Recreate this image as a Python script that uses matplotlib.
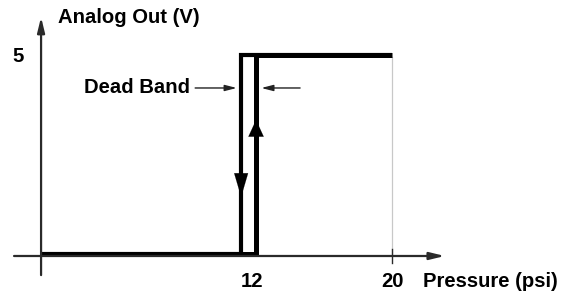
import matplotlib
matplotlib.use("Agg")
import matplotlib.pyplot as plt

plt.rcParams["font.family"] = ["Liberation Sans", "DejaVu Sans"]

# hysteresis data (pressure in psi, output in V)
p_low = 11.4      # switch-off pressure (falling)
p_high = 12.25    # switch-on pressure (rising)
p_max = 20
v_max = 5
rise_p = [0, p_high, p_high, p_max]
rise_v = [0, 0, v_max, v_max]
fall_p = [p_max, p_low, p_low, 0]
fall_v = [v_max, v_max, 0, 0]
xtick_vals = [12, 20]
xtick_labels = ["12", "20"]
ytick_vals = [5]

fs = 14.6

fig = plt.figure(figsize=(5.73, 2.97), dpi=100)
ax = fig.add_axes([0, 0, 1, 1])
ax.set_xlim(-2.34, 30.31)
ax.set_ylim(-1.03, 6.43)
ax.axis("off")

# axes with arrows
ax.annotate("", xy=(0, 6.0), xytext=(0, -0.48),
            arrowprops=dict(arrowstyle="-|>,head_length=0.9,head_width=0.22",
                            color="#2a2a2a", lw=1.6, shrinkA=0, shrinkB=0))
ax.annotate("", xy=(23.0, 0), xytext=(-1.54, 0),
            arrowprops=dict(arrowstyle="-|>,head_length=0.9,head_width=0.22",
                            color="#2a2a2a", lw=1.6, shrinkA=0, shrinkB=0))

# thin guide at full scale
ax.plot([p_max, p_max], [0, v_max], color="#c8c8c8", lw=0.9)
ax.plot([p_max, p_max], [-0.18, 0.18], color="#2a2a2a", lw=1.0)

# hysteresis loop
ax.plot(fall_p, [v + 0.04 for v in fall_v], color="black", lw=3.0,
        solid_joinstyle="miter", solid_capstyle="butt")
ax.plot(rise_p, [v + 0.04 for v in rise_v], color="black", lw=3.6,
        solid_joinstyle="miter", solid_capstyle="butt")

# direction arrowheads on verticals
ax.annotate("", xy=(p_low, 1.48), xytext=(p_low, 2.1),
            arrowprops=dict(arrowstyle="-|>,head_length=1.7,head_width=0.5",
                            color="black", lw=0.1, shrinkA=0, shrinkB=0))
ax.annotate("", xy=(p_high, 3.42), xytext=(p_high, 2.9),
            arrowprops=dict(arrowstyle="-|>,head_length=1.2,head_width=0.55",
                            color="black", lw=0.1, shrinkA=0, shrinkB=0))

# dead band indicator
db_v = 4.22
ax.annotate("", xy=(p_low - 0.25, db_v), xytext=(8.78, db_v),
            arrowprops=dict(arrowstyle="-|>,head_length=0.7,head_width=0.18",
                            color="#222222", lw=1.0, shrinkA=0, shrinkB=0))
ax.annotate("", xy=(p_high + 0.3, db_v), xytext=(14.76, db_v),
            arrowprops=dict(arrowstyle="-|>,head_length=0.7,head_width=0.18",
                            color="#222222", lw=1.0, shrinkA=0, shrinkB=0))
ax.text(8.5, db_v, "Dead Band", ha="right", va="center",
        fontsize=fs, fontweight="bold")

# labels
for xv, lab in zip(xtick_vals, xtick_labels):
    ax.text(xv, -0.63, lab, ha="center", va="center", fontsize=fs, fontweight="bold")
for yv in ytick_vals:
    ax.text(-1.31, yv, str(yv), ha="center", va="center", fontsize=fs, fontweight="bold")
ax.text(21.75, -0.63, "Pressure (psi)", ha="left", va="center",
        fontsize=fs, fontweight="bold")
ax.text(0.97, 6.0, "Analog Out (V)", ha="left", va="center",
        fontsize=fs, fontweight="bold")

fig.savefig("out.png", dpi=100)
